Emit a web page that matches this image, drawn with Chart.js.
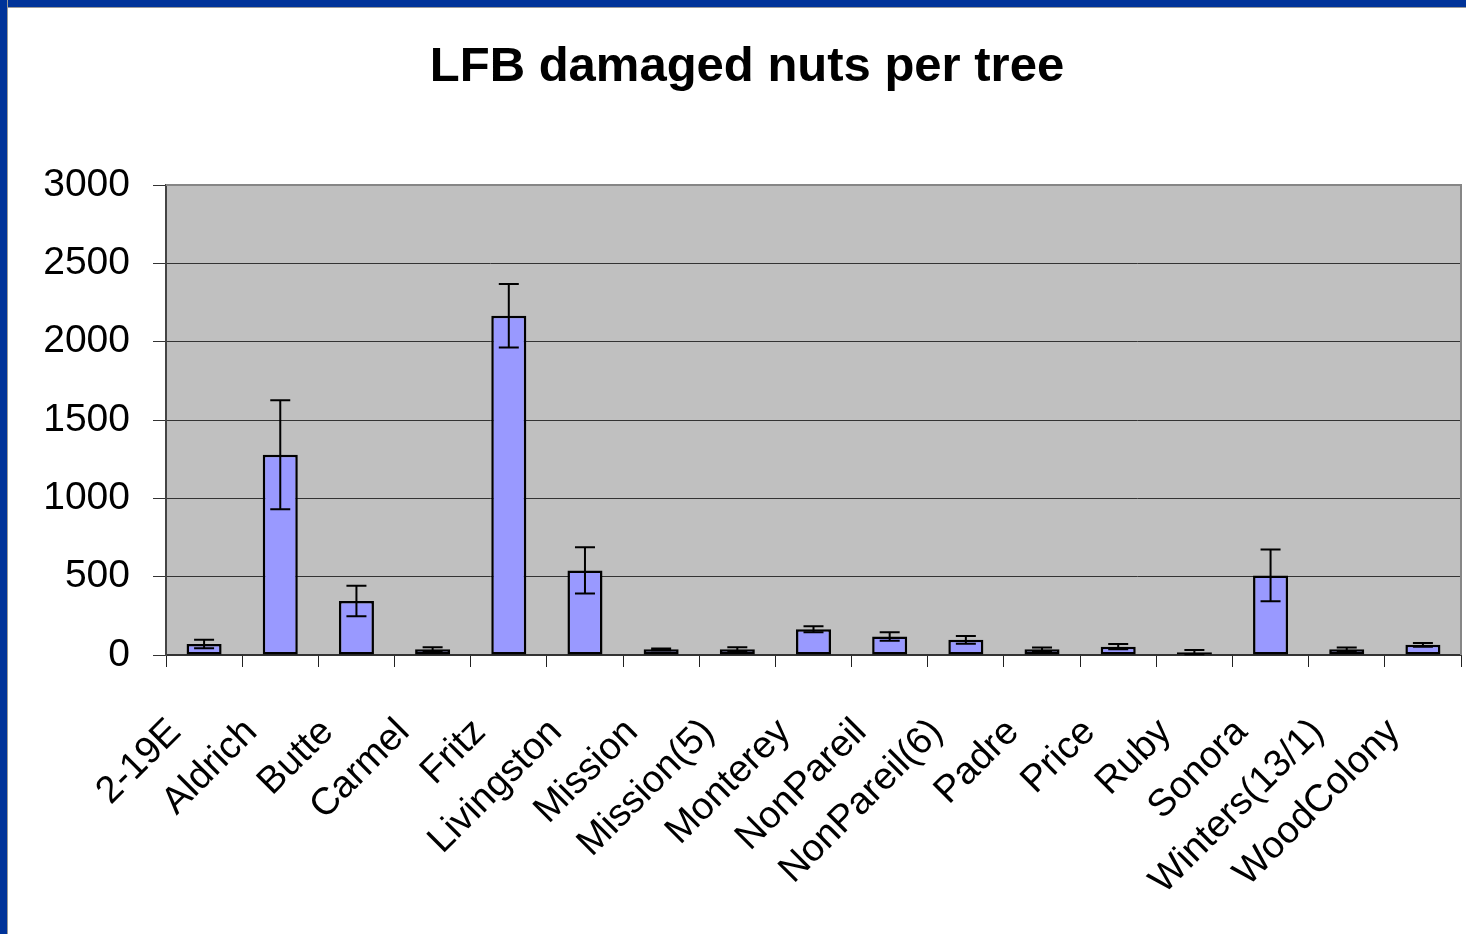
<!DOCTYPE html>
<html>
<head>
<meta charset="utf-8">
<script src="https://cdn.jsdelivr.net/npm/chart.js@4.4.1/dist/chart.umd.min.js"></script>
<style>
  html, body { margin: 0; padding: 0; background: #ffffff; overflow: hidden; }
  #wrap { position: relative; width: 1466px; height: 934px; background: #ffffff; }
  #chart { position: absolute; left: 0; top: 0; }
  .bTop { position: absolute; left: 0; top: 0; width: 1466px; height: 7px; background: #003399; border-bottom: 1px solid #9a9a9a; }
  .bLeft { position: absolute; left: 0; top: 0; width: 7px; height: 934px; background: #003399; border-right: 1px solid #9a9a9a; }
</style>
</head>
<body>
<div id="wrap">
  <canvas id="chart" width="1466" height="934"></canvas>
  <div class="bTop"></div>
  <div class="bLeft"></div>
</div>
<script>
const categories = ["2-19E", "Aldrich", "Butte", "Carmel", "Fritz", "Livingston", "Mission", "Mission(5)", "Monterey", "NonPareil", "NonPareil(6)", "Padre", "Price", "Ruby", "Sonora", "Winters(13/1)", "WoodColony"];
const meanValues = [70, 1278, 345, 36, 2165, 540, 36, 36, 165, 118, 97, 36, 53, 18, 508, 36, 65];
const errorValues = [27, 348, 97, 13, 203, 148, 5, 14, 19, 27, 25, 12, 17, 14, 165, 12, 12];
const yTickValues = [0, 500, 1000, 1500, 2000, 2500, 3000];
const chartTitle = "LFB damaged nuts per tree";

const FONT = "'Liberation Sans', Arial, Helvetica, sans-serif";

const plotBackground = {
  id: 'plotBackground',
  beforeDraw(chart) {
    const a = chart.chartArea, ctx = chart.ctx;
    ctx.save();
    ctx.fillStyle = '#c0c0c0';
    ctx.fillRect(a.left, a.top, a.right - a.left, a.bottom - a.top);
    ctx.restore();
  },
  afterDraw(chart) {
    const a = chart.chartArea, ctx = chart.ctx;
    ctx.save();
    ctx.strokeStyle = '#868686';
    ctx.lineWidth = 2;
    ctx.beginPath();
    ctx.moveTo(a.left, a.top);
    ctx.lineTo(a.right, a.top);
    ctx.lineTo(a.right, a.bottom);
    ctx.stroke();
    ctx.restore();
  }
};

const errorBars = {
  id: 'errorBars',
  afterDatasetsDraw(chart) {
    const ctx = chart.ctx;
    const ys = chart.scales.y;
    const meta = chart.getDatasetMeta(0);
    ctx.save();
    ctx.strokeStyle = '#000000';
    ctx.lineWidth = 2;
    meta.data.forEach((el, i) => {
      const v = meanValues[i], e = errorValues[i];
      const yHi = ys.getPixelForValue(v + e);
      const yLo = ys.getPixelForValue(Math.max(0, v - e));
      const x = el.x;
      const cap = 10;
      ctx.beginPath();
      ctx.moveTo(x, yHi); ctx.lineTo(x, yLo);
      ctx.moveTo(x - cap, yHi); ctx.lineTo(x + cap, yHi);
      ctx.moveTo(x - cap, yLo); ctx.lineTo(x + cap, yLo);
      ctx.stroke();
    });
    ctx.restore();
  }
};

new Chart(document.getElementById('chart'), {
  type: 'bar',
  data: {
    labels: categories,
    datasets: [{
      data: meanValues,
      backgroundColor: '#9999ff',
      borderColor: '#000000',
      borderWidth: 2.5,
      borderSkipped: false,
      barPercentage: 0.46,
      categoryPercentage: 1.0
    }]
  },
  options: {
    responsive: false,
    animation: false,
    layout: { padding: { left: 33, right: 5, top: 0, bottom: 0 } },
    plugins: {
      legend: { display: false },
      tooltip: { enabled: false },
      title: {
        display: true,
        text: chartTitle,
        color: '#000000',
        font: { family: FONT, size: 49, weight: 'bold', lineHeight: 1.2 },
        padding: { top: 38, bottom: 88.2 }
      }
    },
    scales: {
      x: {
        offset: true,
        grid: {
          offset: true,
          drawOnChartArea: false,
          drawTicks: true,
          tickLength: 12,
          color: '#222222',
          lineWidth: 1
        },
        border: { display: true, color: '#333333', width: 2 },
        ticks: {
          autoSkip: false,
          minRotation: 45,
          maxRotation: 45,
          padding: 43,
          labelOffset: -29,
          color: '#000000',
          font: { family: FONT, size: 38 }
        },
        afterFit(scale) {
          scale.height = 279;
          scale.paddingLeft = 0;
          scale.paddingRight = 0;
        }
      },
      y: {
        min: 0,
        max: 3000,
        afterBuildTicks(scale) { scale.ticks = yTickValues.map(v => ({ value: v })); },
        grid: {
          color: '#333333',
          lineWidth: 1,
          drawTicks: true,
          tickLength: 13
        },
        border: { display: true, color: '#444444', width: 2 },
        ticks: {
          padding: 23,
          color: '#000000',
          font: { family: FONT, size: 39 },
          callback: (v) => String(v)
        },
        afterFit(scale) { scale.width = 133; }
      }
    }
  },
  plugins: [plotBackground, errorBars]
});
</script>
</body>
</html>
